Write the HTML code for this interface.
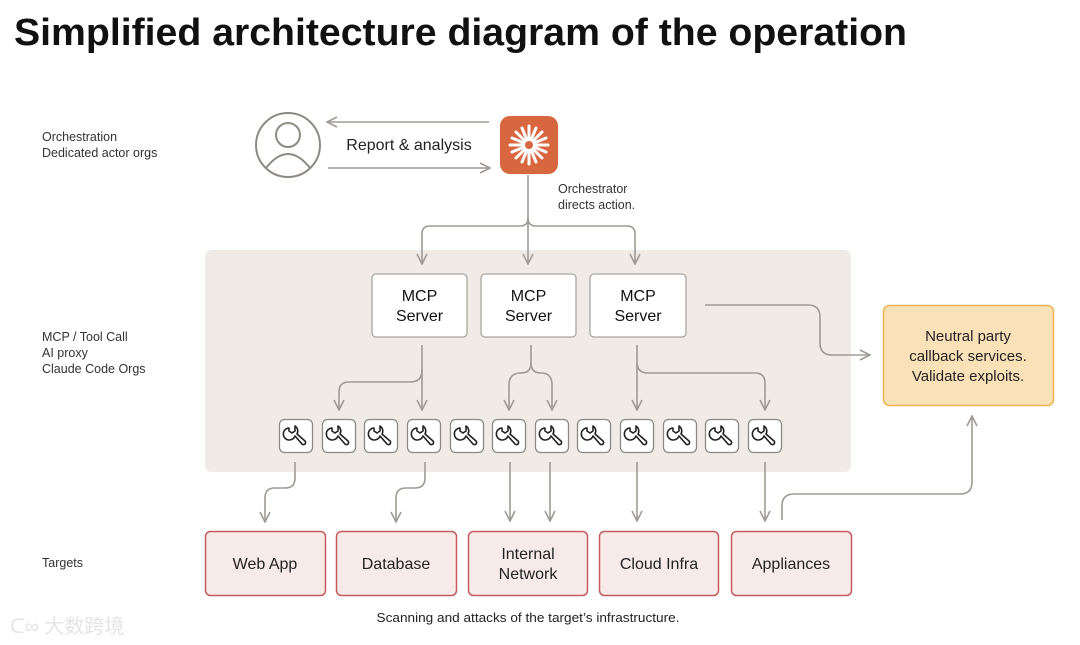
<!DOCTYPE html>
<html><head><meta charset="utf-8"><style>
html,body{margin:0;padding:0;background:#fff;}
svg{display:block;font-family:"Liberation Sans",sans-serif;}
</style></head><body>
<svg width="1080" height="645" viewBox="0 0 1080 645" xmlns="http://www.w3.org/2000/svg">
<defs>
<marker id="a" viewBox="0 0 12 12" refX="11" refY="6" markerWidth="12" markerHeight="12" markerUnits="userSpaceOnUse" orient="auto">
<path d="M1,1 L11,6 L1,11" fill="none" stroke="#9e9a95" stroke-width="1.6"/>
</marker>
<g id="w">
<rect x="0.5" y="0.5" width="33" height="33" rx="5" fill="#fff" stroke="#8d8a86" stroke-width="1.3"/>
<path d="M10,9 a6,6 0 1 0 6,8 l7,8 a2,2 0 0 0 3,-3 l-8,-7 a6,6 0 0 0 -2,-8 l0,5 -3,2 -3,-2 z" fill="none" stroke="#222" stroke-width="1.6" stroke-linejoin="round"/>
</g>
</defs>
<text x="14" y="45" font-size="38" font-weight="bold" fill="#111" textLength="893" lengthAdjust="spacingAndGlyphs">Simplified architecture diagram of the operation</text>

<g font-size="12.5" fill="#333">
<text x="42" y="141">Orchestration</text>
<text x="42" y="157">Dedicated actor orgs</text>
<text x="42" y="341">MCP / Tool Call</text>
<text x="42" y="357">AI proxy</text>
<text x="42" y="373">Claude Code Orgs</text>
<text x="42" y="567">Targets</text>
</g>

<!-- person -->
<circle cx="288" cy="145" r="32" fill="none" stroke="#8d8a86" stroke-width="2"/>
<circle cx="288" cy="135" r="12" fill="none" stroke="#8d8a86" stroke-width="2"/>
<path d="M266,168 q22,-28 44,0" fill="none" stroke="#8d8a86" stroke-width="2"/>

<g stroke="#9e9a95" stroke-width="1.6" fill="none">
<line x1="489" y1="122" x2="327" y2="122" marker-end="url(#a)"/>
<line x1="328" y1="168" x2="490" y2="168" marker-end="url(#a)"/>
</g>
<text x="409" y="150" font-size="16" fill="#222" text-anchor="middle">Report &amp; analysis</text>

<rect x="500" y="116" width="58" height="58" rx="10" fill="#d8663f"/>
<g stroke="#fff" stroke-width="3" stroke-linecap="round" transform="translate(529,145)">
<line x1="0" y1="-19" x2="0" y2="19"/><line x1="-19" y1="0" x2="19" y2="0"/>
<line x1="-13" y1="-13" x2="13" y2="13"/><line x1="-13" y1="13" x2="13" y2="-13"/>
<line x1="-7" y1="-17" x2="7" y2="17"/><line x1="-17" y1="-7" x2="17" y2="7"/>
<line x1="-7" y1="17" x2="7" y2="-17"/><line x1="-17" y1="7" x2="17" y2="-7"/>
</g>
<circle cx="529" cy="145" r="4" fill="#d8663f"/>
<text x="558" y="193" font-size="12.5" fill="#333">Orchestrator</text>
<text x="558" y="209" font-size="12.5" fill="#333">directs action.</text>

<rect x="205" y="250" width="646" height="222" rx="6" fill="#f0ebe6"/>

<g stroke="#9e9a95" stroke-width="1.6" fill="none">
<path d="M528,175 V264" marker-end="url(#a)"/>
<path d="M528,218 q0,8 -8,8 H430 q-8,0 -8,8 V264" marker-end="url(#a)"/>
<path d="M528,218 q0,8 8,8 H627 q8,0 8,8 V264" marker-end="url(#a)"/>
</g>

<g font-size="16" fill="#111" text-anchor="middle">
<rect x="372" y="274" width="95" height="63" rx="4" fill="#fff" stroke="#a9a5a0" stroke-width="1.3"/>
<text x="419.5" y="301">MCP</text><text x="419.5" y="321">Server</text>
<rect x="481" y="274" width="95" height="63" rx="4" fill="#fff" stroke="#a9a5a0" stroke-width="1.3"/>
<text x="528.5" y="301">MCP</text><text x="528.5" y="321">Server</text>
<rect x="590" y="274" width="96" height="63" rx="4" fill="#fff" stroke="#a9a5a0" stroke-width="1.3"/>
<text x="638" y="301">MCP</text><text x="638" y="321">Server</text>
</g>

<g stroke="#9e9a95" stroke-width="1.6" fill="none">
<path d="M422,345 V410" marker-end="url(#a)"/>
<path d="M422,370 q0,12 -12,12 H349 q-10,0 -10,10 V410" marker-end="url(#a)"/>
<path d="M531,345 V363 q0,10 -10,10 q-12,0 -12,12 V410" marker-end="url(#a)"/>
<path d="M531,363 q0,10 10,10 q11,0 11,12 V410" marker-end="url(#a)"/>
<path d="M637,345 V410" marker-end="url(#a)"/>
<path d="M637,362 q0,11 11,11 H755 q10,0 10,10 V410" marker-end="url(#a)"/>
<path d="M705,305 H808 q12,0 12,12 V343 q0,12 12,12 H870" marker-end="url(#a)"/>
</g>

<g>
<use href="#w" x="279" y="419"/><use href="#w" x="322" y="419"/><use href="#w" x="364" y="419"/>
<use href="#w" x="407" y="419"/><use href="#w" x="450" y="419"/><use href="#w" x="492" y="419"/>
<use href="#w" x="535" y="419"/><use href="#w" x="577" y="419"/><use href="#w" x="620" y="419"/>
<use href="#w" x="663" y="419"/><use href="#w" x="705" y="419"/><use href="#w" x="748" y="419"/>
</g>

<g stroke="#9e9a95" stroke-width="1.6" fill="none">
<path d="M295,462 V478 q0,10 -10,10 H275 q-10,0 -10,10 V522" marker-end="url(#a)"/>
<path d="M425,462 V478 q0,10 -10,10 H406 q-10,0 -10,10 V522" marker-end="url(#a)"/>
<path d="M510,462 V521" marker-end="url(#a)"/>
<path d="M550,462 V521" marker-end="url(#a)"/>
<path d="M637,462 V521" marker-end="url(#a)"/>
<path d="M765,462 V521" marker-end="url(#a)"/>
<path d="M782,520 V506 q0,-12 12,-12 H960 q12,0 12,-12 V416" marker-end="url(#a)"/>
</g>

<rect x="883.5" y="305.5" width="170" height="100" rx="6" fill="#fbe1b7" stroke="#efb250" stroke-width="1.5"/>
<g font-size="15" fill="#222" text-anchor="middle">
<text x="968" y="341">Neutral party</text>
<text x="968" y="361">callback services.</text>
<text x="968" y="381">Validate exploits.</text>
</g>

<g fill="#f7ebea" stroke="#c75a5c" stroke-width="1.5">
<rect x="205.5" y="531.5" width="120" height="64" rx="5"/>
<rect x="336.5" y="531.5" width="120" height="64" rx="5"/>
<rect x="468.5" y="531.5" width="119" height="64" rx="5"/>
<rect x="599.5" y="531.5" width="119" height="64" rx="5"/>
<rect x="731.5" y="531.5" width="120" height="64" rx="5"/>
</g>
<g font-size="16" fill="#222" text-anchor="middle">
<text x="265" y="569">Web App</text>
<text x="396" y="569">Database</text>
<text x="528" y="559">Internal</text>
<text x="528" y="579">Network</text>
<text x="659" y="569">Cloud Infra</text>
<text x="791" y="569">Appliances</text>
</g>
<text x="528" y="622" font-size="13" fill="#222" text-anchor="middle" textLength="303" lengthAdjust="spacingAndGlyphs">Scanning and attacks of the target’s infrastructure.</text>

<text x="10" y="633" font-size="20" fill="#e4e4e4" font-family="'Liberation Sans','Noto Sans CJK SC',sans-serif">ᑕ∞ 大数跨境</text>
</svg>
</body></html>
